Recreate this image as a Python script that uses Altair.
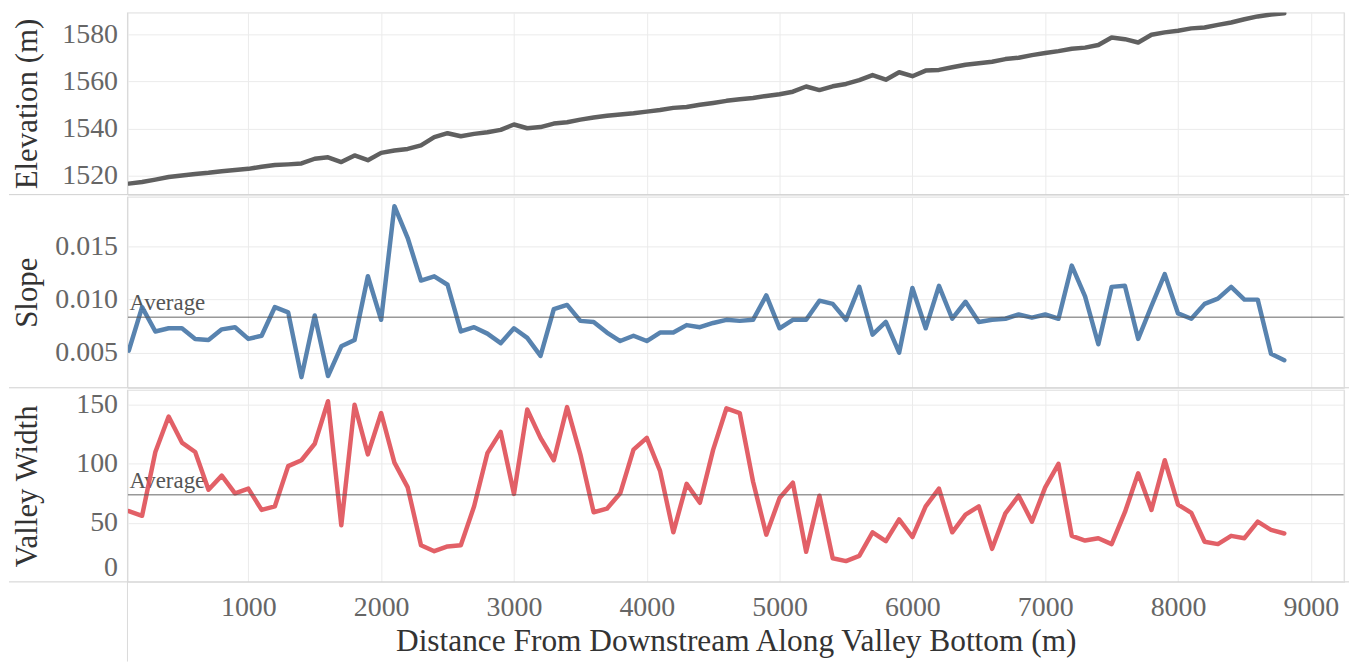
import altair as alt
import pandas as pd

distance = [100, 200, 300, 400, 500, 600, 700, 800, 900, 1000,
            1100, 1200, 1300, 1400, 1500, 1600, 1700, 1800, 1900, 2000,
            2100, 2200, 2300, 2400, 2500, 2600, 2700, 2800, 2900, 3000,
            3100, 3200, 3300, 3400, 3500, 3600, 3700, 3800, 3900, 4000,
            4100, 4200, 4300, 4400, 4500, 4600, 4700, 4800, 4900, 5000,
            5100, 5200, 5300, 5400, 5500, 5600, 5700, 5800, 5900, 6000,
            6100, 6200, 6300, 6400, 6500, 6600, 6700, 6800, 6900, 7000,
            7100, 7200, 7300, 7400, 7500, 7600, 7700, 7800, 7900, 8000,
            8100, 8200, 8300, 8400, 8500, 8600, 8700, 8800]

elevation = [1516.5, 1517.2, 1518.2, 1519.3, 1520.0, 1520.6, 1521.1, 1521.8, 1522.3, 1522.8,
             1523.7, 1524.4, 1524.7, 1525.1, 1527.1, 1527.7, 1525.7, 1528.5, 1526.5, 1529.6,
             1530.6, 1531.3, 1532.8, 1536.3, 1538.0, 1536.7, 1537.7, 1538.4, 1539.4, 1541.7,
             1540.1, 1540.6, 1542.1, 1542.7, 1543.8, 1544.7, 1545.4, 1546.0, 1546.5, 1547.2,
             1547.9, 1548.8, 1549.2, 1550.1, 1550.9, 1551.8, 1552.5, 1553.0, 1553.9, 1554.6,
             1555.7, 1557.9, 1556.4, 1558.0, 1559.0, 1560.6, 1562.8, 1560.8, 1564.0, 1562.3,
             1564.7, 1565.0, 1566.1, 1567.2, 1567.8, 1568.5, 1569.6, 1570.2, 1571.3, 1572.2,
             1573.0, 1574.0, 1574.5, 1575.6, 1578.8, 1578.1, 1576.7, 1580.0, 1581.0, 1581.7,
             1582.7, 1583.1, 1584.2, 1585.2, 1586.6, 1587.8, 1588.6, 1589.1]

slope = [0.0052, 0.0093, 0.0070, 0.0073, 0.0073, 0.0063, 0.0062, 0.0072, 0.0074, 0.0063,
         0.0066, 0.0093, 0.0088, 0.0027, 0.0085, 0.0028, 0.0056, 0.0062, 0.0122, 0.0081,
         0.0188, 0.0158, 0.0118, 0.0122, 0.0114, 0.0070, 0.0074, 0.0068, 0.0059, 0.0073,
         0.0064, 0.0047, 0.0091, 0.0095, 0.0080, 0.0079, 0.0069, 0.0061, 0.0066, 0.0061,
         0.0069, 0.0069, 0.0076, 0.0074, 0.0078, 0.0081, 0.0080, 0.0081, 0.0104, 0.0073,
         0.0081, 0.0081, 0.0099, 0.0096, 0.0081, 0.0112, 0.0067, 0.0079, 0.0050, 0.0111,
         0.0073, 0.0113, 0.0082, 0.0098, 0.0079, 0.0081, 0.0082, 0.0086, 0.0083, 0.0086,
         0.0082, 0.0132, 0.0103, 0.0058, 0.0112, 0.0113, 0.0063, 0.0094, 0.0124, 0.0087,
         0.0082, 0.0096, 0.0101, 0.0112, 0.0100, 0.0100, 0.0049, 0.0043]

valley_width = [60, 56, 110, 140, 118, 110, 78, 90, 75, 79,
                61, 64, 98, 103, 117, 153, 48, 150, 108, 143,
                101, 80, 31, 26, 30, 31, 64, 109, 127, 74.5,
                146, 122, 103, 148, 108, 59, 62, 75, 112, 122,
                94, 42, 83, 67, 112, 147, 143, 85, 40, 71,
                84, 25.5, 73, 20, 17.6, 22, 42, 34.5, 53, 38,
                64, 79, 42, 57, 64, 28, 58, 73, 51, 80,
                100, 39, 35, 37, 32, 59, 92, 61, 103, 65.5,
                58.5, 34, 32, 39, 37, 51, 44, 41]

slope_avg = [0.00834]
width_avg = [73.9]

x_ticks = [1000, 2000, 3000, 4000, 5000, 6000, 7000, 8000, 9000]
elev_ticks = [1520, 1540, 1560, 1580]
slope_ticks = [0.005, 0.010, 0.015]
width_ticks = [0, 50, 100, 150]

df = pd.DataFrame({"distance": distance, "elevation": elevation,
                   "slope": slope, "width": valley_width})
one = pd.DataFrame({"k": [0]})

W = 1222
FONT = "Liberation Serif"
GRID = "#ebebeb"
SEP = "#d0d0d0"
LABEL_C = "#666666"
TITLE_C = "#333333"

x_scale = alt.Scale(domain=[90, 9250], nice=False, zero=False)


def x_enc(show):
    if show:
        axis = alt.Axis(values=x_ticks, grid=True, gridColor=GRID, domain=False, ticks=False,
                        labelFont=FONT, labelFontSize=28, labelColor=LABEL_C, labelPadding=12,
                        format="d",
                        title="Distance From Downstream Along Valley Bottom (m)",
                        titleFont=FONT, titleFontSize=31.5, titleColor=TITLE_C,
                        titleFontWeight="normal", titlePadding=4)
    else:
        axis = alt.Axis(values=x_ticks, grid=True, gridColor=GRID, domain=False, ticks=False,
                        labels=False, title=None)
    return alt.X("distance:Q", scale=x_scale, axis=axis)


def y_axis(title, values, fmt, flush=False):
    kw = dict(values=values, grid=True, gridColor=GRID, domain=False, ticks=False,
              labelFont=FONT, labelFontSize=28, labelColor=LABEL_C, labelPadding=10,
              format=fmt, title=title, titleFont=FONT, titleFontSize=31, titleColor=TITLE_C,
              titleFontWeight="normal", titleX=-100, titleBaseline="middle")
    if flush:
        kw["labelFlush"] = True
    return alt.Axis(**kw)


def frame(height, extra_bottom=0):
    sep = alt.Chart(one).mark_rule(color=SEP, strokeWidth=1).encode(
        x=alt.value(-119), x2=alt.value(W + 5), y=alt.value(height))
    left = alt.Chart(one).mark_rule(color="#dadada", strokeWidth=1).encode(
        x=alt.value(0), y=alt.value(0), y2=alt.value(height + extra_bottom))
    right = alt.Chart(one).mark_rule(color="#e2e2e2", strokeWidth=1).encode(
        x=alt.value(W), y=alt.value(0), y2=alt.value(height))
    return [sep, left, right]


def panel(field, color, domain, ticks, fmt, title, height, avg=None, bottom=False, flush=False):
    yscale = alt.Scale(domain=domain, nice=False, zero=False)
    yax = y_axis(title, ticks, fmt, flush)
    line = alt.Chart(df).mark_line(color=color, strokeWidth=4.5, strokeJoin="round",
                                   strokeCap="round", opacity=0.92, clip=True).encode(
        x=x_enc(bottom),
        y=alt.Y(f"{field}:Q", scale=yscale, axis=yax, title=title))
    layers = []
    if avg is not None:
        adf = pd.DataFrame({"avg": avg})
        txt = alt.Chart(adf).mark_text(text="Average", align="left", baseline="alphabetic",
                                       dy=-7, font=FONT, fontSize=23, color="#555555").encode(
            x=alt.value(2), y=alt.Y("avg:Q", scale=yscale, axis=yax, title=title))
        layers.append(txt)
    layers.append(line)
    if avg is not None:
        rule = alt.Chart(adf).mark_rule(color="#555555", strokeWidth=1.5, opacity=0.6).encode(
            x=alt.value(0), x2=alt.value(W),
            y=alt.Y("avg:Q", scale=yscale, axis=yax, title=title))
        layers.append(rule)
    layers += frame(height, 80 if bottom else 0)
    return alt.layer(*layers).properties(width=W, height=height)


top = panel("elevation", "#525252", [1511.8, 1589.5], elev_ticks, "d", "Elevation (m)", 183)
mid = panel("slope", "#4a78a8", [0.0017, 0.0197], slope_ticks, ".3f", "Slope", 192,
            avg=slope_avg)
bot = panel("width", "#e0525a", [0, 162.7], width_ticks, "d", "Valley Width", 193,
            avg=width_avg, bottom=True, flush=True)

chart = alt.vconcat(top, mid, bot, spacing=0).properties(
    padding={"left": 0, "top": 2, "right": 5, "bottom": 0}
).configure_view(stroke=None).configure(background="white")

chart.save("out.html", embed_options={"renderer": "svg", "actions": False})
